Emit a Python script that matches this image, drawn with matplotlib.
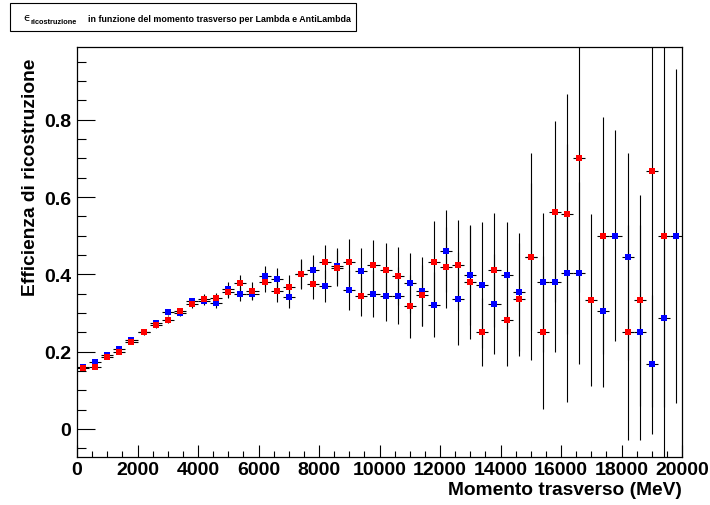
import numpy as np
import matplotlib
matplotlib.use("Agg")
import matplotlib.pyplot as plt
from matplotlib.patches import Rectangle
from matplotlib.ticker import MultipleLocator

plt.rcParams['font.family'] = ['Liberation Sans', 'DejaVu Sans']

# bin centres (MeV), 50 bins of 400 MeV between 0 and 20000
pt_centers = [200, 600, 1000, 1400, 1800, 2200, 2600, 3000, 3400, 3800,
              4200, 4600, 5000, 5400, 5800, 6200, 6600, 7000, 7400, 7800,
              8200, 8600, 9000, 9400, 9800, 10200, 10600, 11000, 11400, 11800,
              12200, 12600, 13000, 13400, 13800, 14200, 14600, 15000, 15400, 15800,
              16200, 16600, 17000, 17400, 17800, 18200, 18600, 19000, 19400, 19800]
half_bin = 200

nan = np.nan
# red markers
eff_red = [0.158, 0.161, 0.186, 0.200, 0.224, 0.250, 0.268, 0.283, 0.304, 0.322,
           0.337, 0.339, 0.354, 0.377, 0.358, 0.381, 0.357, 0.367, 0.402, 0.376,
           0.432, 0.416, 0.431, 0.343, 0.423, 0.410, 0.395, 0.317, 0.346, 0.433,
           0.418, 0.425, 0.379, 0.250, 0.412, 0.283, 0.335, 0.446, 0.250, 0.5625,
           0.556, 0.700, 0.333, 0.500, nan, 0.250, 0.333, 0.667, 0.500, nan]
err_red = [0.005, 0.005, 0.005, 0.005, 0.005, 0.006, 0.007, 0.008, 0.008, 0.010,
           0.011, 0.012, 0.016, 0.022, 0.022, 0.027, 0.028, 0.031, 0.037, 0.041,
           0.045, 0.047, 0.060, 0.050, 0.065, 0.072, 0.075, 0.081, 0.079, 0.104,
           0.105, 0.116, 0.146, 0.088, 0.147, 0.119, 0.146, 0.267, 0.198, 0.235,
           0.310, 0.346, 0.223, 0.306, nan, 0.278, 0.273, 0.609, 0.600, nan]

# blue markers
eff_blue = [0.160, 0.173, 0.191, 0.206, 0.230, 0.252, 0.275, 0.302, 0.300, 0.330,
            0.332, 0.325, 0.361, 0.350, 0.349, 0.396, 0.388, 0.341, 0.400, 0.412,
            0.370, 0.422, 0.360, 0.408, 0.350, 0.343, 0.345, 0.378, 0.356, 0.321,
            0.461, 0.337, 0.398, 0.372, 0.324, 0.397, 0.354, 0.446, 0.379, 0.379,
            0.404, 0.404, nan, 0.304, 0.500, 0.446, 0.250, 0.167, 0.286, 0.500]
err_blue = [0.005, 0.005, 0.005, 0.005, 0.006, 0.006, 0.007, 0.008, 0.009, 0.010,
            0.011, 0.012, 0.020, 0.018, 0.016, 0.025, 0.028, 0.029, 0.037, 0.039,
            0.042, 0.047, 0.051, 0.060, 0.060, 0.065, 0.074, 0.078, 0.089, 0.084,
            0.106, 0.120, 0.130, 0.163, 0.129, 0.139, 0.153, 0.189, 0.180, 0.180,
            0.334, 0.236, nan, 0.196, 0.273, 0.267, 0.278, 0.180, 0.228, 0.432]

W, H = 710, 506
fig = plt.figure(figsize=(W / 100, H / 100), dpi=100)
ax = fig.add_axes([77 / W, 1 - 458 / H, (682 - 77) / W, (458 - 48) / H])

for eff, err, col in [(eff_blue, err_blue, '#0000ff'), (eff_red, err_red, '#ff0000')]:
    ax.errorbar(pt_centers, eff, xerr=half_bin, yerr=err, fmt='s', ms=4.2,
                mfc=col, mec=col, mew=0, ecolor='black', elinewidth=0.8,
                capsize=1.6, capthick=0.8)

ax.set_xlim(0, 20000)
ax.set_ylim(-0.0725, 0.988)

ax.xaxis.set_major_locator(MultipleLocator(2000))
ax.xaxis.set_minor_locator(MultipleLocator(500))
ax.yaxis.set_minor_locator(MultipleLocator(0.05))
ax.set_yticks([0, 0.2, 0.4, 0.6, 0.8])
ax.set_yticklabels(['0', '0.2', '0.4', '0.6', '0.8'])

ax.tick_params(axis='both', which='both', direction='in', top=False, right=False, width=0.8)
ax.tick_params(axis='x', which='major', length=8.9, pad=3)
ax.tick_params(axis='x', which='minor', length=4.4)
ax.tick_params(axis='y', which='major', length=13, pad=4)
ax.tick_params(axis='y', which='minor', length=6.5)
for lab in ax.get_xticklabels() + ax.get_yticklabels():
    lab.set_fontsize(14)
    lab.set_fontweight('bold')
for s in ax.spines.values():
    s.set_linewidth(0.9)

fig.text(682 / W, 1 - 491 / H, 'Momento trasverso (MeV)', ha='right', va='center',
         fontsize=13.8, fontweight='bold')
fig.text(31 / W, 1 - 59 / H, 'Efficienza di ricostruzione', ha='center', va='top',
         rotation=90, fontsize=13.8, fontweight='bold')

# title box
fig.patches.append(Rectangle((10 / W, 1 - 32 / H), 346 / W, 28 / H, transform=fig.transFigure,
                             facecolor='white', edgecolor='black', linewidth=0.8))
fig.text(23 / W, 1 - 21 / H, '\u03f5', ha='left', va='baseline',
         fontsize=8, family='DejaVu Sans')
fig.text(31 / W, 1 - 23.5 / H, 'ricostruzione', ha='left', va='baseline',
         fontsize=5.3, fontweight='bold')
fig.text(88 / W, 1 - 21.5 / H, 'in funzione del momento trasverso per Lambda e AntiLambda',
         ha='left', va='baseline', fontsize=6.4, fontweight='bold')

fig.savefig('out.png', dpi=100)
